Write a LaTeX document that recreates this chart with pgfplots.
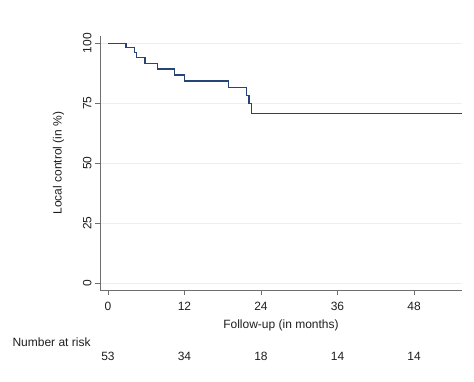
\documentclass[border=0pt]{standalone}
\usepackage{fontspec}
\setmainfont{Liberation Sans}
\usepackage{pgfplots}
\pgfplotsset{compat=1.18}
\definecolor{km}{RGB}{38,68,118}
\definecolor{axc}{RGB}{110,110,110}
\definecolor{gridc}{RGB}{232,240,242}
\definecolor{txt}{RGB}{30,30,30}
\begin{document}
\begin{tikzpicture}[x=1pt,y=1pt]
\path[use as bounding box] (-100,-91) rectangle (374,290);
\begin{axis}[
  at={(0,0)}, anchor=south west,
  scale only axis, width=362pt, height=254pt,
  xmin=-1.255, xmax=55.53, ymin=-2.79, ymax=103,
  axis x line*=bottom, axis y line*=left,
  axis line style={axc, line width=0.8pt, -},
  xtick={0,12,24,36,48}, ytick={0,25,50,75,100},
  tick style={axc, line width=0.8pt},
  tick align=outside, major tick length=5pt,
  ymajorgrids, grid style={gridc, line width=0.8pt},
  font=\fontsize{12}{14}\selectfont,
  /pgf/number format/assume math mode=true,
  ticklabel style={txt},
  yticklabel style={rotate=90, anchor=south, yshift=0pt},
  xticklabel style={yshift=-4pt},
  xlabel={Follow-up (in months)},
  ylabel={Local control (in \%)},
  xlabel style={txt, yshift=-2pt},
  ylabel style={txt, yshift=12pt},
  clip=false,
]
\addplot[km, line width=1.3pt, const plot] coordinates {
(0,100) (2.8,98.1) (4.2,96.2) (4.5,94.0) (5.8,91.6) (7.8,89.2) (10.4,86.8) (12,84.3) (18.9,81.5) (21.7,78.2) (22.1,74.9) (22.5,70.8) (55.5,70.8)
};
\end{axis}
\begin{scope}[font=\fontsize{12}{14}\selectfont, text=txt]
\node[anchor=west] at (-91,-52.7) {Number at risk};
\node at (8,-66) {53};
\node at (84.5,-66) {34};
\node at (161,-66) {18};
\node at (237.5,-66) {14};
\node at (314,-66) {14};
\end{scope}
\end{tikzpicture}
\end{document}
